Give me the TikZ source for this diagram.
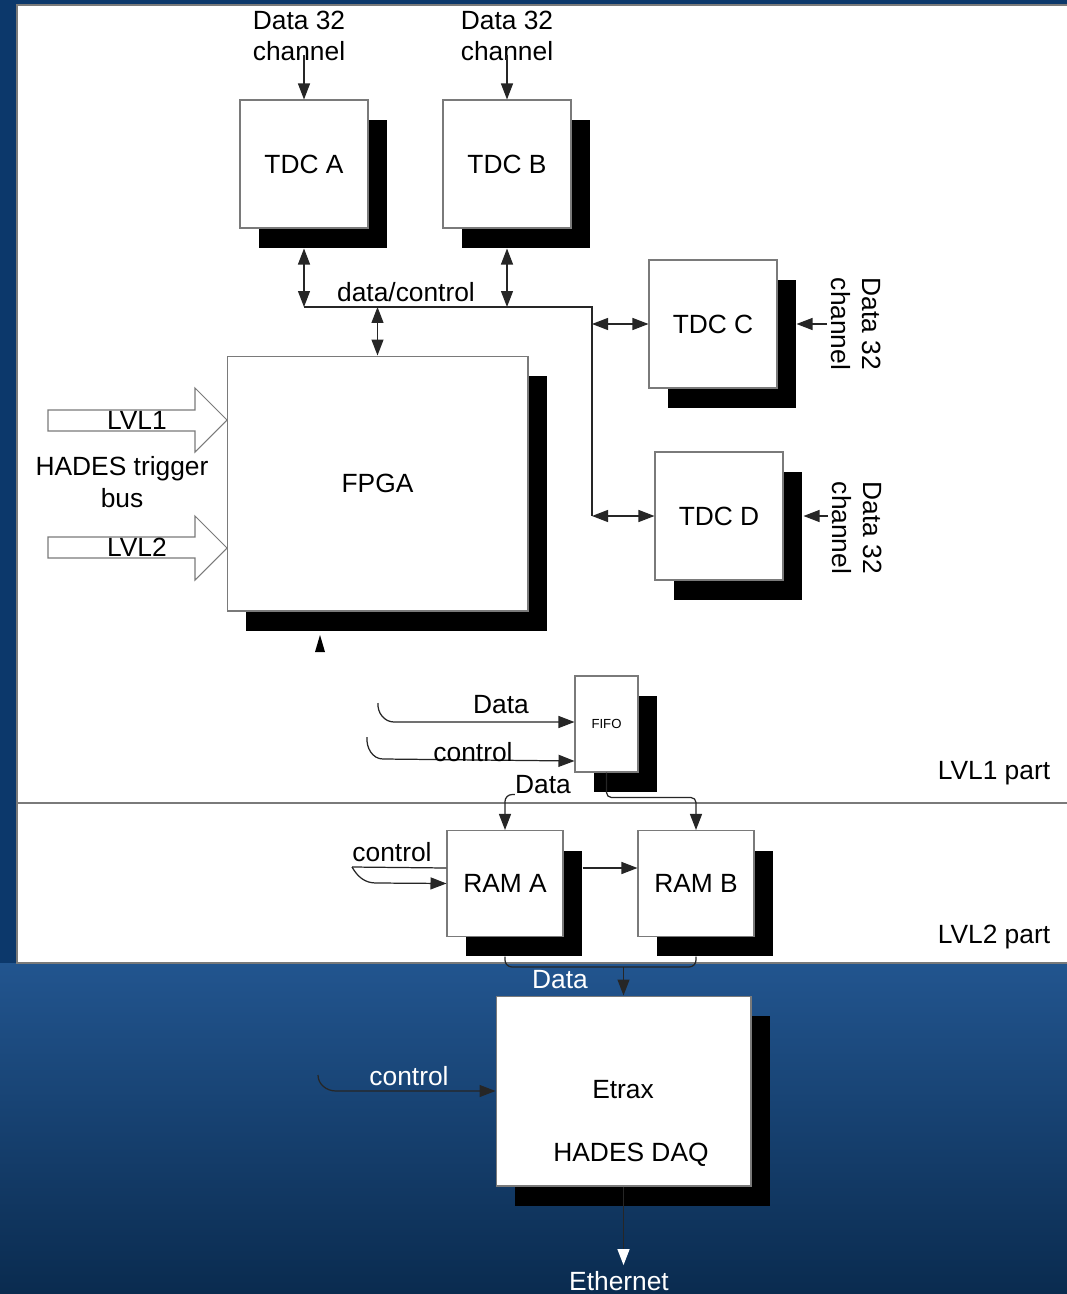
\documentclass[tikz,border=0pt]{standalone}
\usepackage{fontspec}
\setmainfont{Liberation Sans}
\usetikzlibrary{arrows.meta, positioning, calc, shadows}
\definecolor{slideblue}{HTML}{0C386B}
\definecolor{slidetop}{HTML}{22558F}
\definecolor{slidebot}{HTML}{0A2B4F}
\definecolor{boxgray}{HTML}{7A7A7A}
\definecolor{wiregray}{HTML}{262626}

\begin{document}
\begin{tikzpicture}[x=0.02cm, y=-0.02cm,
  every node/.style={font=\fontsize{15}{18}\selectfont},
  block/.style={draw=boxgray, fill=white, line width=0.6pt, inner sep=0pt,
                drop shadow={shadow xshift=0.38cm, shadow yshift=-0.4cm,
                             fill=black, opacity=1}},
  tdc/.style={block, minimum width=2.56cm, minimum height=2.56cm},
  ram/.style={block, minimum width=2.32cm, minimum height=2.12cm},
  wire/.style={draw=wiregray, line width=0.7pt},
  arr/.style={wire, -{Triangle[length=0.32cm, width=0.24cm]}},
  biarr/.style={wire, {Triangle[length=0.32cm, width=0.24cm]}-{Triangle[length=0.32cm, width=0.24cm]}},
  lbl/.style={align=center, inner sep=2pt},
  trig/.style={draw=boxgray, fill=white, line width=0.6pt}
]
  \useasboundingbox (0,0) rectangle (1067,1294);

  % slide background and panel
  \fill[slideblue] (0,0) rectangle (1067,963);
  \shade[top color=slidetop, bottom color=slidebot] (0,963) rectangle (1067,1294);
  \draw[boxgray, fill=white, line width=0.6pt] (17,5) rectangle (1072,963);
  \draw[boxgray, line width=0.6pt] (17,803) -- (1072,803);

  % TDC chips
  \node[tdc] (tdcA) at (304,164) {TDC A};
  \node[tdc] (tdcB) at (507,164) {TDC B};
  \node[tdc] (tdcC) at (713,324) {TDC C};
  \node[tdc] (tdcD) at (719,516) {TDC D};

  \node[lbl] (inA) at (299,36) {Data 32\\channel};
  \node[lbl] (inB) at (507,36) {Data 32\\channel};
  \node[lbl, rotate=-90] (inC) at (856,324) {Data 32\\channel};
  \node[lbl, rotate=-90] (inD) at (857,528) {Data 32\\channel};
  \draw[arr] ([yshift=0.2cm]inA.south -| tdcA.north) -- (tdcA.north);
  \draw[arr] ([yshift=0.2cm]inB.south -| tdcB.north) -- (tdcB.north);
  \draw[arr] (inC.south |- tdcC.east) -- ([xshift=0.38cm]tdcC.east);
  \draw[arr] (inD.south |- tdcD.east) -- ([xshift=0.4cm]tdcD.east);

  % FPGA
  \node[block, minimum width=6.02cm, minimum height=5.1cm] (fpga) at (377.5,483.5) {FPGA};

  % data/control bus
  \coordinate (busL) at (304,307);
  \coordinate (busR) at (592,307);
  \draw[wire] (busL) -- (busR) -- (busR |- tdcD.west);
  \draw[biarr] ([yshift=-0.4cm]tdcA.south) -- (busL);
  \draw[biarr] ([yshift=-0.4cm]tdcB.south) -- (tdcB.south |- busL);
  \draw[biarr] (busR |- tdcC.west) -- (tdcC.west);
  \draw[biarr] (busR |- tdcD.west) -- (tdcD.west);
  \draw[biarr] (fpga.north |- busL) -- (fpga.north);
  \node (busLbl) at (406,292) {data/control};

  % trigger bus
  \draw[trig] (48,410) -- (195,410) -- (195,388) -- (227,420) -- (195,452) -- (195,431) -- (48,431) -- cycle;
  \draw[trig] (48,537) -- (195,537) -- (195,516) -- (227,548) -- (195,580) -- (195,558) -- (48,558) -- cycle;
  \node (lvl1) at (137,420) {LVL1};
  \node (lvl2) at (137,547) {LVL2};
  \node[lbl] (trigLbl) at (122,482) {HADES trigger\\bus};
  \fill (315,652) -- (325,652) -- (320,635) -- cycle;

  % FIFO
  \node[block, minimum width=1.26cm, minimum height=1.92cm,
        font=\fontsize{7.5}{9}\selectfont] (fifo) at (606.5,724) {FIFO};
  \coordinate (dIn) at (378,703);
  \coordinate (cIn) at (367,737);
  \draw[arr] (dIn) to[out=-95,in=180] ++(16,19) -- ([yshift=0.04cm]fifo.west);
  \draw[arr] (cIn) to[out=-95,in=180] ++(16,22) -- ([yshift=-0.74cm]fifo.west);
  \node (dLbl) at (501,705) {Data};
  \node (cLbl) at (473,752) {control};

  % RAMs
  \node[ram] (ramA) at (505,883.5) {RAM A};
  \node[ram] (ramB) at (696,883.5) {RAM B};
  \node[inner sep=0pt] (dSplit) at (543,785) {Data};
  \draw[arr, rounded corners=0.14cm] (dSplit.south west) -| (ramA.north);
  \draw[arr, rounded corners=0.1cm] (fifo.south) -- ++(0,25) -| (ramB.north);
  \draw[arr] ([xshift=0.38cm, yshift=0.31cm]ramA.east) -- ([yshift=0.31cm]ramB.west);

  \node[inner sep=0pt] (cRam) at (392,852) {control};
  \coordinate (cRamIn) at (352,867);
  \draw[wire] (cRamIn) -- ([yshift=0.31cm]ramA.west);
  \draw[arr] (cRamIn) to[out=-60,in=180] ++(24,16) -- (ramA.west);

  \node (lvl1part) at (994,773) {LVL1 part};
  \node (lvl2part) at (994,937) {LVL2 part};

  % Etrax
  \node[block, minimum width=5.1cm, minimum height=3.8cm] (etrax) at (623.5,1091) {};
  \node (etraxName) at (623,1090) {Etrax};
  \node (etraxDaq) at (631,1155) {HADES DAQ};

  \coordinate (merge) at (623.5,967);
  \draw[wire, rounded corners=0.14cm] ([yshift=-0.39cm]ramA.south) |- (merge) -| ([yshift=-0.39cm]ramB.south);
  \draw[arr] (merge) -- (etrax.north);
  \node[white] (dMerge) at (560,980) {Data};

  \coordinate (cEtIn) at (318,1075);
  \node[white] (cEt) at (409,1076) {control};
  \draw[arr] (cEtIn) to[out=-90,in=180] ++(18,16) -- (etrax.west);

  \node[white] (eth) at (619,1281) {Ethernet};
  \draw[wire, -{Triangle[length=0.32cm, width=0.24cm, white]}] (etrax.south) -- (etrax.south |- eth.north);
\end{tikzpicture}
\end{document}
